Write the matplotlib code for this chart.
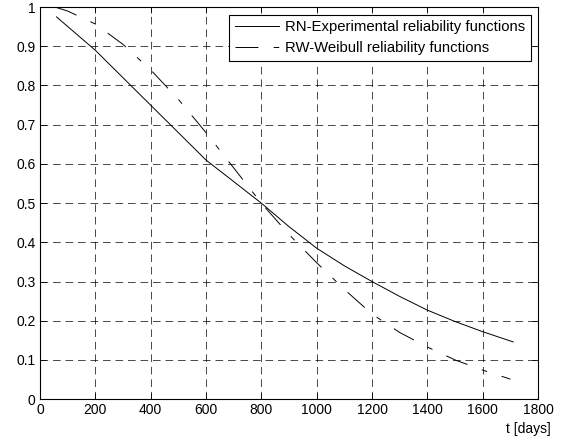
import matplotlib
matplotlib.use('Agg')
import matplotlib.pyplot as plt
import numpy as np

plt.rcParams['font.family'] = ['Liberation Sans', 'DejaVu Sans']
plt.rcParams['lines.scale_dashes'] = False

# experimental reliability
t_exp = [60, 200, 300, 400, 500, 600, 700, 800, 900, 1000, 1100, 1200, 1300, 1400, 1500, 1600, 1710]
r_exp = [0.975, 0.89, 0.82, 0.75, 0.68, 0.61, 0.555, 0.50, 0.44, 0.385, 0.34, 0.30, 0.262, 0.227, 0.198, 0.172, 0.146]

# weibull reliability
t_wb = [55, 100, 200, 300, 400, 500, 600, 700, 800, 900, 1000, 1100, 1200, 1300, 1400, 1500, 1600, 1700]
r_wb = [1.0, 0.99, 0.957, 0.905, 0.84, 0.765, 0.68, 0.59, 0.50, 0.42, 0.348, 0.28, 0.217, 0.17, 0.133, 0.10, 0.074, 0.051]

xticks = np.arange(0, 1801, 200)
yticks = np.round(np.arange(0, 1.01, 0.1), 1)
ylabels = ['0'] + ['%.1f' % v for v in yticks[1:-1]] + ['1']

fig = plt.figure(figsize=(5.7, 4.43), dpi=100)
ax = fig.add_axes([0.070, 0.099, 0.874, 0.885])

ax.plot(t_exp, r_exp, color='black', lw=0.7, label='RN-Experimental reliability functions')
ax.plot(t_wb, r_wb, color='black', lw=0.7, dashes=(16.5, 11, 4, 11),
        label='RW-Weibull reliability functions')

ax.set_xlim(0, 1800)
ax.set_ylim(0, 1)
ax.set_xticks(xticks)
ax.set_yticks(yticks)
ax.set_yticklabels(ylabels)
ax.tick_params(direction='in', top=True, right=True, labelsize=10, length=4, width=0.6, pad=3)
ax.grid(True, color='black', lw=0.5, dashes=(5.5, 3.5))
for s in ax.spines.values():
    s.set_linewidth(0.8)

ax.text(1.026, -0.058, 't [days]', transform=ax.transAxes, ha='right', va='top', fontsize=10)

leg = ax.legend(loc='upper right', fontsize=10.7, fancybox=False, framealpha=1,
                edgecolor='black', borderaxespad=0.5, handlelength=3.0,
                handletextpad=0.35, borderpad=0.4, labelspacing=0.42)
leg.get_frame().set_linewidth(0.8)

fig.savefig('out.png', dpi=100)
